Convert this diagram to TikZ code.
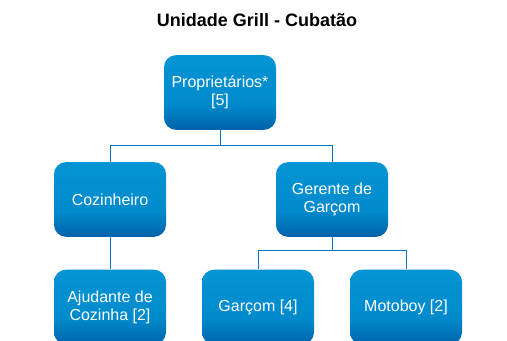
\documentclass[tikz,border=0pt]{standalone}
\usepackage{fontspec}
\setmainfont{Liberation Sans}
\usepackage{tikz}
\usetikzlibrary{positioning, calc}
\definecolor{roletop}{RGB}{4,148,212}
\definecolor{rolemid}{RGB}{0,138,204}
\definecolor{rolebottom}{RGB}{0,98,170}
\definecolor{linkcolor}{RGB}{0,118,190}
\pgfdeclareverticalshading{rolefill}{100bp}{color(0bp)=(rolebottom); color(25bp)=(rolebottom); color(42bp)=(rolemid); color(75bp)=(roletop); color(100bp)=(roletop)}

\begin{document}
\begin{tikzpicture}[
    x=0.75pt, y=-0.75pt,
    role/.style={rounded corners=9pt, minimum width=84pt, minimum height=56pt, align=center, text=white, font=\fontsize{12}{13.5}\selectfont, shading=rolefill, inner sep=2pt},
    link/.style={draw=linkcolor, line width=0.75pt}
]
    \clip (0,0) rectangle (507,341);

    % Title
    \node[font=\fontsize{13.5}{15}\selectfont\bfseries] (title) at (257,20) {Unidade Grill - Cubatão};

    % Top level
    \node[role] (prop) at (220,92.5) {Proprietários*\\{[5]}};

    % Second level
    \node[role] (coz) at (110,199.5) {Cozinheiro};
    \node[role] (ger) at (332,199.5) {Gerente de\\Garçom};

    % Third level
    \node[role] (ajud) at (110,307) {Ajudante de\\Cozinha [2]};
    \node[role] (garc) at (258,307) {Garçom [4]};
    \node[role] (moto) at (406,307) {Motoboy [2]};

    % Bus lines
    \coordinate (bustop) at (0,146);
    \coordinate (busger) at (0,251);

    % Connectors
    \draw[link] (prop.south) -- (prop.south |- bustop) -| (coz.north);
    \draw[link] (prop.south |- bustop) -| (ger.north);
    \draw[link] (coz.south) -- (ajud.north);
    \draw[link] (ger.south) -- (ger.south |- busger) -| (garc.north);
    \draw[link] (ger.south |- busger) -| (moto.north);
\end{tikzpicture}
\end{document}
